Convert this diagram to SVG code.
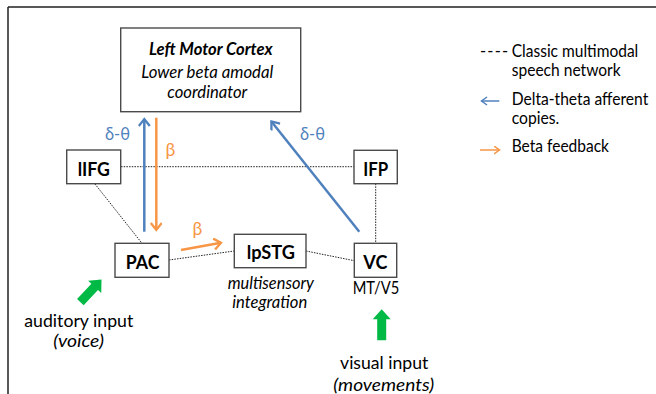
<svg xmlns="http://www.w3.org/2000/svg" width="656" height="394" viewBox="0 0 656 394">
<style>
text{font-family:Lato,"Open Sans","Liberation Sans",sans-serif;fill:#000;}
.t{font-size:16.5px;}
.b{font-weight:bold;}
.i{font-style:italic;}
.g{font-size:17.5px;}
.n{font-size:19.5px;font-weight:bold;}
.box{fill:#fff;stroke:#4a4a4a;stroke-width:1.4;}
.dot{fill:none;stroke:#222;stroke-width:1;stroke-dasharray:1.5,1.2;}
.blue{fill:none;stroke:#4F81BD;stroke-width:2.5;}
.orange{fill:none;stroke:#F79646;stroke-width:2.5;}
.lb{fill:#4F81BD;}
.lo{fill:#F79646;}
.green{fill:#00BA45;}
</style>
<defs>
<marker id="ab" markerUnits="userSpaceOnUse" markerWidth="14" markerHeight="14" refX="8" refY="6" orient="auto">
<path d="M1,0.5 L8,6 L1,11.5" fill="none" stroke="#4F81BD" stroke-width="2.3"/>
</marker>
<marker id="ao" markerUnits="userSpaceOnUse" markerWidth="14" markerHeight="14" refX="8" refY="6" orient="auto">
<path d="M1,0.5 L8,6 L1,11.5" fill="none" stroke="#F79646" stroke-width="2.3"/>
</marker>
<marker id="abs" markerUnits="userSpaceOnUse" markerWidth="10" markerHeight="10" refX="6" refY="4.5" orient="auto">
<path d="M0.5,0.5 L6,4.5 L0.5,8.5" fill="none" stroke="#4F81BD" stroke-width="1.5"/>
</marker>
<marker id="aos" markerUnits="userSpaceOnUse" markerWidth="10" markerHeight="10" refX="6" refY="4.5" orient="auto">
<path d="M0.5,0.5 L6,4.5 L0.5,8.5" fill="none" stroke="#F79646" stroke-width="1.5"/>
</marker>
<polygon id="garrow" points="0,0 9,10 4.5,10 4.5,31 -4.5,31 -4.5,10 -9,10"/>
</defs>

<g id="frame">
<path d="M8,7 H656 M8,7 V394" fill="none" stroke="#222" stroke-width="1.5"/>
</g>

<g id="connectors">
<line class="dot" x1="121" y1="166.7" x2="354" y2="166.7"/>
<line class="dot" x1="95" y1="184" x2="142" y2="243.3"/>
<line class="dot" x1="169" y1="260" x2="234.3" y2="251"/>
<line class="dot" x1="306" y1="251" x2="354.3" y2="260.7"/>
<line class="dot" x1="375.7" y1="183.7" x2="375.7" y2="243.3"/>
<line class="blue" x1="144.3" y1="231.7" x2="144.3" y2="119" marker-end="url(#ab)"/>
<line class="orange" x1="156.3" y1="117.7" x2="156.3" y2="230" marker-end="url(#ao)"/>
<line class="blue" x1="359.3" y1="231.7" x2="271.4" y2="121.5" marker-end="url(#ab)"/>
<line class="orange" x1="181" y1="250" x2="221" y2="242.8" marker-end="url(#ao)"/>
<text class="g lb" x="117.5" y="140" text-anchor="middle" textLength="25" lengthAdjust="spacingAndGlyphs">δ-θ</text>
<text class="g lb" x="312.5" y="140" text-anchor="middle" textLength="25" lengthAdjust="spacingAndGlyphs">δ-θ</text>
<text class="g lo" x="170.3" y="156" text-anchor="middle">β</text>
<text class="g lo" x="197.3" y="235" text-anchor="middle">β</text>
<use href="#garrow" class="green" transform="translate(381.7,309.3)"/>
<use href="#garrow" class="green" transform="translate(101.5,279.5) rotate(43)"/>
</g>

<g id="motor">
<rect class="box" x="120.7" y="28" width="180" height="83.7"/>
<text class="t b i" x="210.8" y="55" text-anchor="middle" textLength="123.7" lengthAdjust="spacingAndGlyphs">Left Motor Cortex</text>
<text class="t i" x="207.3" y="78.3" text-anchor="middle" textLength="132" lengthAdjust="spacingAndGlyphs">Lower beta amodal</text>
<text class="t i" x="207.3" y="98.3" text-anchor="middle" textLength="80" lengthAdjust="spacingAndGlyphs">coordinator</text>
</g>

<g id="lIFG">
<rect class="box" x="66.7" y="150" width="54" height="33.7"/>
<text class="n" x="93.8" y="175.7" text-anchor="middle" textLength="32.3" lengthAdjust="spacingAndGlyphs">lIFG</text>
</g>

<g id="IFP">
<rect class="box" x="354" y="150.3" width="43.3" height="33.4"/>
<text class="n" x="375.8" y="175.7" text-anchor="middle" textLength="25" lengthAdjust="spacingAndGlyphs">IFP</text>
</g>

<g id="PAC">
<rect class="box" x="115" y="243.3" width="54" height="34"/>
<text class="n" x="142.5" y="269" text-anchor="middle" textLength="33.7" lengthAdjust="spacingAndGlyphs">PAC</text>
</g>

<g id="lpSTG">
<rect class="box" x="234.3" y="234.3" width="71.7" height="33.4"/>
<text class="n" x="270.8" y="259.3" text-anchor="middle" textLength="48.3" lengthAdjust="spacingAndGlyphs">lpSTG</text>
<text class="t i" x="270.8" y="289" text-anchor="middle" textLength="86.3" lengthAdjust="spacingAndGlyphs">multisensory</text>
<text class="t i" x="269.8" y="308.3" text-anchor="middle" textLength="75" lengthAdjust="spacingAndGlyphs">integration</text>
</g>

<g id="VC">
<rect class="box" x="354.3" y="243.3" width="42.4" height="34"/>
<text class="n" x="375.3" y="269" text-anchor="middle" textLength="24" lengthAdjust="spacingAndGlyphs">VC</text>
<text class="t" x="376" y="294.3" text-anchor="middle" textLength="46.7" lengthAdjust="spacingAndGlyphs">MT/V5</text>
</g>

<g id="auditory">
<text class="t" x="78.8" y="326.7" text-anchor="middle" textLength="109" lengthAdjust="spacingAndGlyphs">auditory input</text>
<text class="t i" x="78.7" y="346.7" text-anchor="middle" textLength="50.7" lengthAdjust="spacingAndGlyphs">(voice)</text>
</g>

<g id="visual">
<text class="t" x="384.2" y="369" text-anchor="middle" textLength="88.3" lengthAdjust="spacingAndGlyphs">visual input</text>
<text class="t i" x="383.8" y="391" text-anchor="middle" textLength="101" lengthAdjust="spacingAndGlyphs">(movements)</text>
</g>

<g id="legend">
<text class="t" x="480" y="56.7" font-size="13px" letter-spacing="1.2">----</text>
<text class="t" x="511.7" y="56.7" textLength="126.6" lengthAdjust="spacingAndGlyphs">Classic multimodal</text>
<text class="t" x="511.7" y="76" textLength="109" lengthAdjust="spacingAndGlyphs">speech network</text>
<line x1="499.3" y1="101" x2="481.5" y2="101" stroke="#4F81BD" stroke-width="1.5" marker-end="url(#abs)"/>
<text class="t" x="511.7" y="105" textLength="136.6" lengthAdjust="spacingAndGlyphs">Delta-theta afferent</text>
<text class="t" x="511.7" y="124" textLength="47.6" lengthAdjust="spacingAndGlyphs">copies.</text>
<line x1="480" y1="150" x2="499.5" y2="150" stroke="#F79646" stroke-width="1.5" marker-end="url(#aos)"/>
<text class="t" x="511.7" y="152.3" textLength="97.3" lengthAdjust="spacingAndGlyphs">Beta feedback</text>
</g>
</svg>
